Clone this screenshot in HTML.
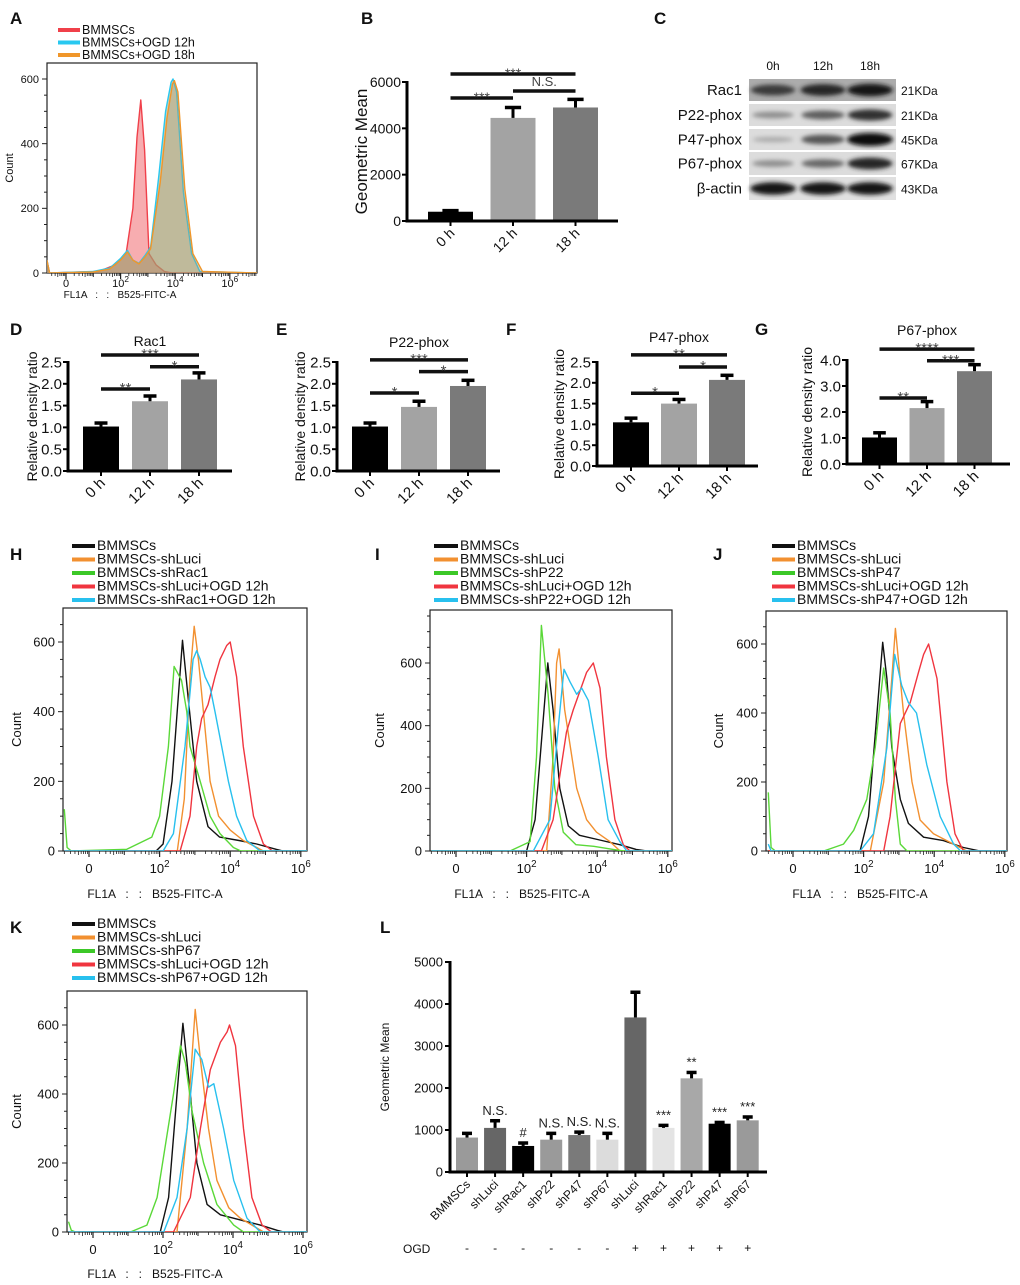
<!DOCTYPE html>
<html><head><meta charset="utf-8"><style>
html,body{margin:0;padding:0;background:#fff;}
svg{display:block;font-family:"Liberation Sans",sans-serif;}
.pre{white-space:pre;}
</style></head><body>
<svg id="fig" width="1020" height="1285" viewBox="0 0 1020 1285" xmlns="http://www.w3.org/2000/svg">
<defs><filter id="blur" x="-50%" y="-100%" width="200%" height="300%"><feGaussianBlur stdDeviation="2.2"/></filter></defs>
</svg>
<script>
// ---------- DATA ----------
const aRedU=[-0.7,-0.6,1.2,1.8,2.2,2.45,2.6,2.74,2.88,3.04,3.3,3.6,3.9,7];
const aRedC=[40,0,5,25,60,200,420,535,380,60,25,5,0,0];
const aCyanU=[-0.7,-0.6,1.0,1.6,2.0,2.25,2.45,2.67,2.9,3.1,3.4,3.65,3.85,3.92,4.05,4.3,4.6,4.9,7];
const aCyanC=[40,0,5,15,45,70,40,30,55,80,300,500,590,600,560,250,60,5,0];
const aOrgU=[-0.7,-0.6,1.0,1.6,2.0,2.25,2.45,2.67,2.9,3.1,3.45,3.7,3.9,3.97,4.1,4.35,4.65,5.0,7];
const aOrgC=[40,0,3,12,40,65,40,28,50,75,280,480,585,595,560,260,60,5,0];
const hBlackU=[-0.7,1.9,2.1,2.35,2.65,2.8,3.05,3.37,3.7,4.25,4.75,5.3,5.5,7];
const hBlackC=[0,0,20,200,605,450,200,70,40,30,20,5,0,0];
const hOrgU=[-0.7,2.5,2.7,2.86,2.98,3.1,3.24,3.43,3.67,4.0,4.37,4.94,7];
const hOrgC=[0,0,150,500,645,550,400,200,100,60,30,0,0];
const hGreenU=[-0.7,-0.62,-0.5,1.07,1.78,2.0,2.25,2.41,2.62,2.77,2.86,3.15,3.43,3.71,4.09,4.3,7];
const hGreenC=[120,10,0,5,40,100,300,530,490,400,300,200,100,50,10,0,0];
const hCyanU=[-0.7,2.1,2.39,2.72,2.95,3.05,3.15,3.29,3.43,3.57,3.76,3.95,4.18,4.47,4.85,7];
const hCyanC=[0,0,50,300,550,575,550,500,470,400,300,200,100,30,0,0];
const hRedU=[-0.7,2.58,2.86,3.05,3.19,3.37,3.57,3.71,3.9,4.0,4.09,4.18,4.37,4.66,4.94,5.2,7];
const hRedC=[0,0,100,300,380,420,500,550,590,600,550,500,300,100,20,0,0];
const iBlackU=[-0.7,2.0,2.24,2.6,2.75,2.94,3.18,3.5,4.07,4.64,5.1,5.4,7];
const iBlackC=[0,0,100,600,450,200,80,50,35,20,5,0,0];
const iOrgU=[-0.7,2.57,2.75,2.85,2.92,3.08,3.42,3.7,3.98,4.36,4.65,7];
const iOrgC=[0,0,300,600,645,450,200,100,60,30,0,0];
const iGreenU=[-0.7,1.53,2.1,2.28,2.42,2.61,2.8,3.04,3.4,3.9,4.45,4.75,7];
const iGreenC=[0,0,30,300,720,500,200,60,20,15,5,0,0];
const iCyanU=[-0.7,2.19,2.66,2.9,3.06,3.23,3.42,3.56,3.75,4.03,4.31,4.64,4.84,7];
const iCyanC=[0,0,100,400,580,540,500,520,480,300,100,30,0,0];
const iRedU=[-0.7,2.42,2.75,3.13,3.32,3.7,3.89,4.08,4.26,4.5,4.74,4.93,7];
const iRedC=[0,0,100,380,450,570,600,520,300,100,20,0,0];
const jBlackU=[-0.7,1.9,2.14,2.38,2.54,2.66,2.8,3.04,3.27,3.7,4.26,4.83,5.3,7];
const jBlackC=[0,0,100,400,605,500,300,150,80,40,30,10,0,0];
const jOrgU=[-0.7,2.19,2.57,2.8,2.9,3.13,3.37,3.6,3.98,4.45,4.92,7];
const jOrgC=[0,0,200,500,645,400,200,90,50,25,0,0];
const jGreenU=[-0.7,-0.62,-0.5,0.87,1.43,1.72,2.09,2.33,2.57,2.75,2.9,3.04,3.23,7];
const jGreenC=[170,10,0,0,20,60,150,300,530,400,150,20,0,0];
const jCyanU=[-0.7,-0.62,-0.5,1.9,2.28,2.66,2.88,3.08,3.27,3.5,3.79,4.17,4.55,4.75,7];
const jCyanC=[20,0,0,0,50,300,570,480,430,400,250,100,20,0,0];
const jRedU=[-0.7,2.57,2.75,3.04,3.32,3.56,3.7,3.84,4.08,4.36,4.59,4.83,7];
const jRedC=[0,0,100,370,430,520,570,600,500,200,50,0,0];
const kBlackU=[-0.7,1.92,2.16,2.4,2.57,2.78,2.97,3.26,3.64,4.21,4.78,5.26,5.45,7];
const kBlackC=[0,0,100,400,605,400,200,80,50,35,20,5,0,0];
const kOrgU=[-0.7,2.4,2.69,2.92,3.07,3.3,3.54,3.88,4.21,4.87,7];
const kOrgC=[0,0,300,645,500,300,150,70,40,0,0];
const kGreenU=[-0.7,-0.62,-0.5,1.07,1.54,1.83,2.3,2.5,2.64,2.83,3.16,3.54,4.02,4.3,7];
const kGreenC=[30,5,0,0,20,100,400,540,490,350,200,80,20,0,0];
const kCyanU=[-0.7,2.02,2.4,2.69,2.92,3.11,3.3,3.45,3.73,4.02,4.4,4.78,7];
const kCyanC=[0,0,100,300,530,500,420,430,300,150,40,0,0];
const kRedU=[-0.7,2.3,2.78,3.07,3.35,3.64,3.83,3.9,4.07,4.3,4.54,4.83,5.1,7];
const kRedC=[0,0,100,300,470,550,580,600,540,300,100,20,0,0];
const timeCats=["0 h","12 h","18 h"];
const bVals=[400,4450,4900], bErr=[450,4900,5250];
const dVals=[1.02,1.6,2.1], dErr=[1.1,1.72,2.25];
const eVals=[1.02,1.47,1.95], eErr=[1.1,1.6,2.08];
const fVals=[1.05,1.5,2.07], fErr=[1.15,1.6,2.18];
const gVals=[1.02,2.15,3.57], gErr=[1.2,2.4,3.82];
const bSig=[[0,2,6345,"***"],[0,1,5309,"***"],[1,2,5612,"N.S."]];
const dSig=[[0,2,2.66,"***"],[1,2,2.39,"*"],[0,1,1.88,"**"]];
const eSig=[[0,2,2.55,"***"],[1,2,2.28,"*"],[0,1,1.79,"*"]];
const fSig=[[0,2,2.67,"**"],[1,2,2.38,"*"],[0,1,1.75,"*"]];
const gSig=[[0,2,4.42,"****"],[1,2,3.97,"***"],[0,1,2.54,"**"]];
const denTicks=[0,0.5,1.0,1.5,2.0,2.5];
const gTicks=[0,1,2,3,4];
const bTicks=[0,2000,4000,6000];
const lCats=["BMMSCs","shLuci","shRac1","shP22","shP47","shP67","shLuci","shRac1","shP22","shP47","shP67"];
const lVals=[820,1050,620,770,880,770,3680,1050,2230,1150,1230];
const lErr=[920,1220,690,920,950,920,4280,1110,2370,1180,1310];
const lAnn=["","N.S.","#","N.S.","N.S.","N.S.","","***","**","***","***"];
const lOGD=["-","-","-","-","-","-","+","+","+","+","+"];
const lTicks=[0,1000,2000,3000,4000,5000];
const blotRows=["Rac1","P22-phox","P47-phox","P67-phox","β-actin"];
const blotKDa=["21KDa","21KDa","45KDa","67KDa","43KDa"];
const blotLanes=["0h","12h","18h"];
const blotInt=[[0.75,0.85,0.95],[0.3,0.55,0.8],[0.15,0.6,1.0],[0.3,0.5,0.85],[0.95,0.95,0.95]];

// ---------- HELPERS ----------
const svg=document.getElementById('fig');
const NS='http://www.w3.org/2000/svg';
function mk(tag,at,parent){const e=document.createElementNS(NS,tag);for(const k in at)e.setAttribute(k,at[k]);(parent||svg).appendChild(e);return e;}
function txt(s,x,y,size,extra,parent){const t=mk('text',Object.assign({x:x,y:y,'font-size':size,fill:'#111'},extra||{}),parent);t.textContent=s;return t;}
function letter(s,x,y){const t=txt(s,x,y,17,{'font-weight':'bold'});

}

function histPanel(id,cfg,series,legend){
  const g=mk('g',{});
  
  
  const X=u=>cfg.x0+u*cfg.dx, Y=c=>cfg.yb-c*cfg.py;
  const [L,T,R,B]=cfg.box;
  mk('rect',{x:L,y:T,width:R-L,height:B-T,fill:'none',stroke:'#222','stroke-width':1.2},g);
  for(let c=0;Y(c)>=T;c+=50){const major=c%200===0;
    mk('line',{x1:L-(major?5:3),x2:L,y1:Y(c),y2:Y(c),stroke:'#222','stroke-width':1},g);
    if(major){const t=txt(String(c),L-8,Y(c)+cfg.fs*0.35,cfg.fs,{'text-anchor':'end'},g);
      }}
  [0,2,4,6].forEach(d=>{mk('line',{x1:X(d),x2:X(d),y1:B,y2:B+6,stroke:'#222','stroke-width':1.2},g);
    const t=mk('text',{x:X(d),y:B+cfg.tly,'font-size':cfg.fs,'text-anchor':'middle',fill:'#111'},g);
    
    if(d===0)t.textContent='0';else{t.textContent='10';const s=mk('tspan',{dy:-cfg.fs*0.45,'font-size':cfg.fs*0.75},t);s.textContent=String(d);}});
  for(let d=-1;d<7;d++)for(let k=2;k<=9;k++){const u=d+Math.log10(k);const x=X(u);if(x>L&&x<R)
    mk('line',{x1:x,x2:x,y1:B,y2:B+(k===5?4:3),stroke:'#222','stroke-width':0.8},g);}
  for(let d=1;d<6;d+=2){const x=X(d);mk('line',{x1:x,x2:x,y1:B,y2:B+4,stroke:'#222','stroke-width':1},g);}
  const cp=mk('clipPath',{id:'cp'+id},g);mk('rect',{x:L,y:T,width:R-L,height:B-T},cp);
  series.forEach(s=>{
    const pts=s.u.map((u,i)=>X(u).toFixed(1)+','+Y(s.c[i]).toFixed(1));
    if(s.fill){const p=mk('polygon',{points:pts.join(' ')+' '+X(s.u[s.u.length-1])+','+Y(0)+' '+X(s.u[0])+','+Y(0),fill:s.fill,'fill-opacity':s.op,'clip-path':'url(#cp'+id+')'},g);
      }
    const pl=mk('polyline',{points:pts.join(' '),fill:'none',stroke:s.col,'stroke-width':1.4,'stroke-linejoin':'round','clip-path':'url(#cp'+id+')'},g);
    
    
  });
  const yl=txt('Count',0,0,cfg.fs,{'text-anchor':'middle',transform:`translate(${cfg.ylx},${(T+B)/2}) rotate(-90)`},g);
  
  const xl=txt('FL1A   :   :   B525-FITC-A',cfg.xlx,cfg.xly,cfg.fs-1,{'text-anchor':'middle','class':'pre'},g);
  
  legend.items.forEach((it,i)=>{const y=legend.y+i*legend.dy;
    const lg=mk('g',{},g);
    
    
    mk('line',{x1:legend.x,x2:legend.x+legend.len,y1:y-4,y2:y-4,stroke:it[1],'stroke-width':4},lg);
    txt(it[0],legend.x+legend.len+2,y,legend.fs,{},lg);});
}

function barPanel(id,cfg){
  const g=mk('g',{});
  
  
  const Y=v=>cfg.y0-(v/cfg.vmax)*(cfg.y0-cfg.yTop);
  const cx=i=>cfg.bx+i*cfg.step+cfg.bw/2;
  cfg.vals.forEach((v,i)=>{
    const r=mk('rect',{x:cfg.bx+i*cfg.step,y:Y(v),width:cfg.bw,height:cfg.y0-Y(v),fill:cfg.cols[i]},g);
    
    
    mk('line',{x1:cx(i),x2:cx(i),y1:Y(v),y2:Y(cfg.err[i]),stroke:'#000','stroke-width':3},g);
    mk('line',{x1:cx(i)-cfg.bw*0.18,x2:cx(i)+cfg.bw*0.18,y1:Y(cfg.err[i]),y2:Y(cfg.err[i]),stroke:'#000','stroke-width':3.5},g);
    mk('line',{x1:cx(i),x2:cx(i),y1:cfg.y0,y2:cfg.y0+5,stroke:'#000','stroke-width':2},g);
    const t=txt(cfg.cats[i],0,0,cfg.fs,{'text-anchor':'end',transform:`translate(${cx(i)+5},${cfg.y0+13}) rotate(-45)`},g);
    
  });
  mk('line',{x1:cfg.ax,x2:cfg.ax,y1:cfg.yTop-1,y2:cfg.y0+1.5,stroke:'#000','stroke-width':3},g);
  mk('line',{x1:cfg.ax-1.5,x2:cfg.right,y1:cfg.y0,y2:cfg.y0,stroke:'#000','stroke-width':3},g);
  cfg.ticks.forEach((v,k)=>{mk('line',{x1:cfg.ax-5,x2:cfg.ax,y1:Y(v),y2:Y(v),stroke:'#000','stroke-width':2},g);
    const t=txt(cfg.tickFmt(v),cfg.ax-6,Y(v)+cfg.fs*0.36,cfg.fs,{'text-anchor':'end'},g);
    });
  const yl=txt(cfg.ylabel,0,0,cfg.yfs,{'text-anchor':'middle',transform:`translate(${cfg.ylx},${(cfg.y0+cfg.yTop)/2}) rotate(-90)`},g);
  
  if(cfg.title){const t=txt(cfg.title,(cx(0)+cx(2))/2,cfg.titleY,14,{'text-anchor':'middle'},g);
    }
  (cfg.sig||[]).forEach(s=>{const y=Y(s[2]);
    mk('line',{x1:cx(s[0]),x2:cx(s[1]),y1:y,y2:y,stroke:'#111','stroke-width':3.5},g);
    const t=txt(s[3],(cx(s[0])+cx(s[1]))/2,s[3]==='N.S.'?y-5:y+4,s[3]==='N.S.'?cfg.fs-1:cfg.fs,{'text-anchor':'middle',fill:'#444'},g);
    });
}

[['A',10,24],['B',361,24],['C',654,24],['D',10,335],['E',276,335],['F',506,335],['G',755,335],['H',10,560],['I',375,560],['J',713,560],['K',10,933],['L',380,933]].forEach(a=>letter(a[0],a[1],a[2]));

histPanel('a',{box:[47,63,257,273],x0:66,dx:27.3,yb:273,py:194/600,fs:11,tly:14,ylx:13,xlx:120,xly:298},
 [{name:'bmmscs',u:aRedU,c:aRedC,col:'#f0404a',fill:'#f06a70',op:0.55},
  {name:'ogd-12h',u:aCyanU,c:aCyanC,col:'#28c8f0',fill:'#a0a070',op:0.5},
  {name:'ogd-18h',u:aOrgU,c:aOrgC,col:'#f0962a',fill:'#a89a70',op:0.4}],
 {x:58,len:22,y:34,dy:12.5,fs:12.5,items:[['BMMSCs','#f0404a'],['BMMSCs+OGD 12h','#28c8f0'],['BMMSCs+OGD 18h','#f0962a']]});

function five(p,bu,bc,ou,oc,gu,gc,cu,cc,ru,rc){return [
 {name:'bmmscs',u:bu,c:bc,col:'#111'},{name:'shluci',u:ou,c:oc,col:'#f29030'},
 {name:'sh-'+p,u:gu,c:gc,col:'#5ad838'},{name:'shluci-ogd',u:ru,c:rc,col:'#f0353f'},{name:'sh-'+p+'-ogd',u:cu,c:cc,col:'#28c0ee'}];}
function legItems(p){return [['BMMSCs','#111'],['BMMSCs-shLuci','#f29030'],['BMMSCs-sh'+p,'#3cc828'],['BMMSCs-shLuci+OGD 12h','#f0353f'],['BMMSCs-sh'+p+'+OGD 12h','#28c0ee']];}
histPanel('h',{box:[63,608,307,851],x0:89,dx:35.3,yb:851,py:209/600,fs:13,tly:22,ylx:21,xlx:155,xly:898},
 five('rac1',hBlackU,hBlackC,hOrgU,hOrgC,hGreenU,hGreenC,hCyanU,hCyanC,hRedU,hRedC),
 {x:72,len:23,y:550,dy:13.5,fs:14,items:legItems('Rac1')});
histPanel('i',{box:[430,610,672,851],x0:456,dx:35.3,yb:851,py:188/600,fs:13,tly:22,ylx:384,xlx:522,xly:898},
 five('p22',iBlackU,iBlackC,iOrgU,iOrgC,iGreenU,iGreenC,iCyanU,iCyanC,iRedU,iRedC),
 {x:434,len:24,y:550,dy:13.5,fs:14,items:legItems('P22')});
histPanel('j',{box:[766,611,1007,851],x0:793,dx:35.3,yb:851,py:207/600,fs:13,tly:22,ylx:723,xlx:860,xly:898},
 five('p47',jBlackU,jBlackC,jOrgU,jOrgC,jGreenU,jGreenC,jCyanU,jCyanC,jRedU,jRedC),
 {x:772,len:23,y:550,dy:13.5,fs:14,items:legItems('P47')});
histPanel('k',{box:[67,991,307,1232],x0:93,dx:35,yb:1232,py:207/600,fs:13,tly:22,ylx:21,xlx:155,xly:1278},
 five('p67',kBlackU,kBlackC,kOrgU,kOrgC,kGreenU,kGreenC,kCyanU,kCyanC,kRedU,kRedC),
 {x:72,len:23,y:928,dy:13.5,fs:14,items:legItems('P67')});

const f1=v=>v.toFixed(1);
barPanel('b',{ax:407,y0:221,yTop:82,vmax:6000,bx:428,step:62.5,bw:45,right:618,vals:bVals,err:bErr,cats:timeCats,
 cols:['#000','#a3a3a3','#7a7a7a'],ticks:bTicks,tickFmt:v=>String(v),fs:14,ylabel:'Geometric Mean',yfs:17,ylx:367,sig:bSig});
barPanel('d',{ax:68,y0:471,yTop:362,vmax:2.5,bx:83,step:49,bw:36,right:232,vals:dVals,err:dErr,cats:timeCats,
 cols:['#000','#a3a3a3','#7a7a7a'],ticks:denTicks,tickFmt:f1,fs:15,ylabel:'Relative density ratio',yfs:14,ylx:37,title:'Rac1',titleY:346,sig:dSig});
barPanel('e',{ax:337,y0:471,yTop:362,vmax:2.5,bx:352,step:49,bw:36,right:500,vals:eVals,err:eErr,cats:timeCats,
 cols:['#000','#a3a3a3','#7a7a7a'],ticks:denTicks,tickFmt:f1,fs:15,ylabel:'Relative density ratio',yfs:14,ylx:305,title:'P22-phox',titleY:347,sig:eSig});
barPanel('f',{ax:597,y0:466,yTop:362,vmax:2.5,bx:613,step:48,bw:36,right:758,vals:fVals,err:fErr,cats:timeCats,
 cols:['#000','#a3a3a3','#7a7a7a'],ticks:denTicks,tickFmt:f1,fs:15,ylabel:'Relative density ratio',yfs:14,ylx:564,title:'P47-phox',titleY:342,sig:fSig});
barPanel('g',{ax:847,y0:464,yTop:360,vmax:4,bx:862,step:47.5,bw:35,right:1010,vals:gVals,err:gErr,cats:timeCats,
 cols:['#000','#a3a3a3','#7a7a7a'],ticks:gTicks,tickFmt:f1,fs:15,ylabel:'Relative density ratio',yfs:14,ylx:812,title:'P67-phox',titleY:335,sig:gSig});

(function(){
  const g=mk('g',{});
  
  
  const ax=450,y0=1172,yTop=962,vmax=5000,c0=467,step=28.07,bw=22;
  const cols=['#9a9a9a','#666','#000','#9a9a9a','#7a7a7a','#dcdcdc','#666','#e4e4e4','#a8a8a8','#000','#9a9a9a'];
  const Y=v=>y0-(v/vmax)*(y0-yTop);
  lVals.forEach((v,i)=>{const cx=c0+i*step;
    const r=mk('rect',{x:cx-bw/2,y:Y(v),width:bw,height:y0-Y(v),fill:cols[i]},g);
    
    
    mk('line',{x1:cx,x2:cx,y1:Y(v),y2:Y(lErr[i]),stroke:'#000','stroke-width':3},g);
    mk('line',{x1:cx-5,x2:cx+5,y1:Y(lErr[i]),y2:Y(lErr[i]),stroke:'#000','stroke-width':3.5},g);
    mk('line',{x1:cx,x2:cx,y1:y0,y2:y0+5,stroke:'#000','stroke-width':2},g);
    if(lAnn[i]){const t=txt(lAnn[i],cx,Y(lErr[i])-6,13,{'text-anchor':'middle',fill:'#222'},g);
      }
    const t=txt(lCats[i],0,0,12,{'text-anchor':'end',transform:`translate(${cx+4},${y0+13}) rotate(-45)`},g);
    
    const o=txt(lOGD[i],cx,1252,12,{'text-anchor':'middle'},g);
    
  });
  mk('line',{x1:ax,x2:ax,y1:yTop-1,y2:y0+1.5,stroke:'#000','stroke-width':3},g);
  mk('line',{x1:ax-1.5,x2:767,y1:y0,y2:y0,stroke:'#000','stroke-width':3},g);
  lTicks.forEach(v=>{mk('line',{x1:ax-5,x2:ax,y1:Y(v),y2:Y(v),stroke:'#000','stroke-width':2},g);
    const t=txt(String(v),ax-7,Y(v)+4.5,13,{'text-anchor':'end'},g);
    });
  const yl=txt('Geometric Mean',0,0,12,{'text-anchor':'middle',transform:`translate(${389},${1067}) rotate(-90)`},g);
  
  const og=txt('OGD',403,1253,12,{},g);
  
})();

(function(){
  const g=mk('g',{});
  
  
  const laneX=[773,823,870], rowY=[79,104,129,152,177], rowH=[22,22,21,23,23];
  blotLanes.forEach((l,i)=>{const t=txt(l,laneX[i],70,12,{'text-anchor':'middle'},g);
    });
  blotRows.forEach((r,k)=>{
    const bg=k===0?'#acacac':(k===4?'#e0e0e0':'#dcdcdc');
    mk('rect',{x:749,y:rowY[k],width:147,height:rowH[k],fill:bg},g);
    blotInt[k].forEach((v,i)=>{
      const shade=Math.round(200-v*190);
      const e=mk('ellipse',{cx:laneX[i],cy:rowY[k]+rowH[k]/2,rx:20+v*3,ry:2+v*4.5,fill:`rgb(${shade},${shade},${shade})`,filter:'url(#blur)'},g);
      
      
    });
    const t=txt(r,742,rowY[k]+rowH[k]/2+5,15,{'text-anchor':'end'},g);
    
    const kd=txt(blotKDa[k],901,rowY[k]+rowH[k]/2+5,12,{},g);
    
  });
})();
</script>
</body></html>
